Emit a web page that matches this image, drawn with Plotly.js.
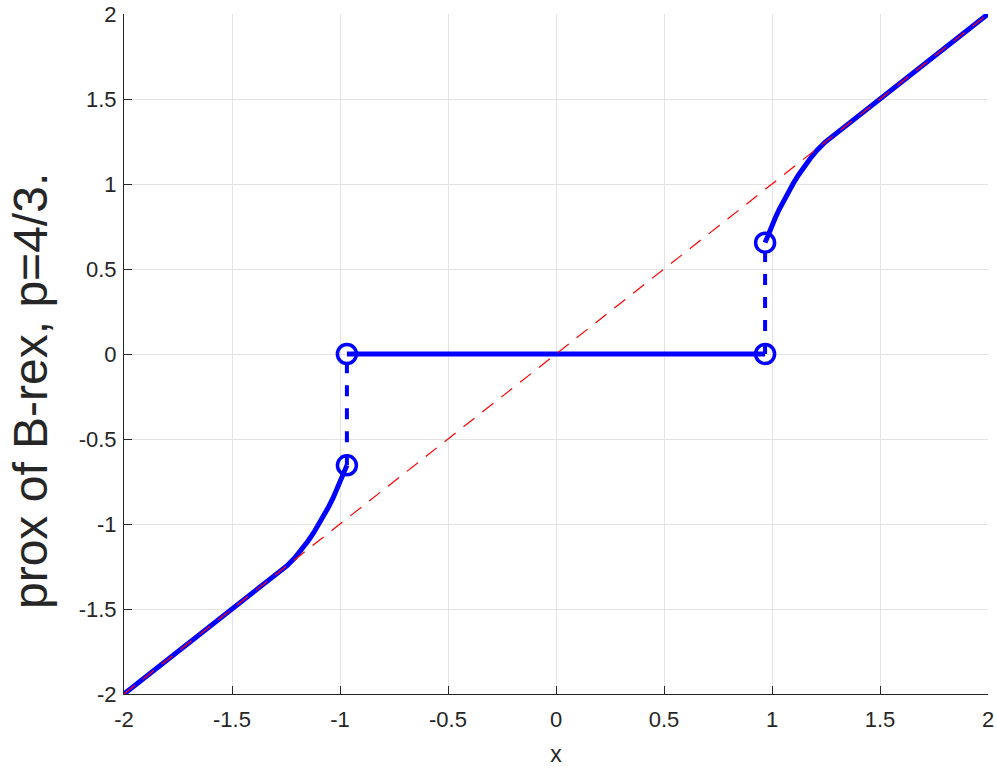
<!DOCTYPE html>
<html>
<head>
<meta charset="utf-8">
<script src="https://cdn.plot.ly/plotly-3.0.1.min.js"></script>
<style>html,body{margin:0;padding:0;background:#fff;}#chart{width:997px;height:768px;}</style>
</head>
<body>
<div id="chart"></div>
<script>
// Identity reference line (red dashed)
const diagX = [-2, 2];
const diagY = [-2, 2];

// Lower branch: identity part then curved part up to jump point
const lowX = [-2, -1.245, -1.210, -1.177, -1.148, -1.121, -1.097, -1.074, -1.053, -1.033, -1.015, -0.997, -0.981, -0.968];
const lowY = [-2, -1.245, -1.200, -1.150, -1.100, -1.050, -1.000, -0.950, -0.900, -0.850, -0.800, -0.750, -0.700, -0.655];

// Middle flat part
const midX = [-0.968, 0.968];
const midY = [0, 0];

// Upper branch: curved part then identity
const upX = [0.968, 0.981, 0.997, 1.015, 1.033, 1.053, 1.074, 1.097, 1.121, 1.148, 1.177, 1.210, 1.245, 2];
const upY = [0.655, 0.700, 0.750, 0.800, 0.850, 0.900, 0.950, 1.000, 1.050, 1.100, 1.150, 1.200, 1.245, 2];

// Jumps (dashed verticals)
const jumpLeftX = [-0.968, -0.968];
const jumpLeftY = [-0.655, 0];
const jumpRightX = [0.968, 0.968];
const jumpRightY = [0, 0.655];

// Open circles at the discontinuity
const circX = [-0.968, -0.968, 0.968, 0.968];
const circY = [0, -0.655, 0, 0.655];

// Tick labels
const tickVals = [-2, -1.5, -1, -0.5, 0, 0.5, 1, 1.5, 2];
const tickText = ['-2', '-1.5', '-1', '-0.5', '0', '0.5', '1', '1.5', '2'];

const yTitle = 'prox of B-rex, p=4/3.';
const xTitle = 'x';

const BLUE = '#0000ff';
const RED = '#ff0000';
const FONT = 'Liberation Sans, Arial, Helvetica, sans-serif';

const traces = [
  {x: jumpLeftX, y: jumpLeftY, mode: 'lines', line: {color: BLUE, width: 4, dash: '11px,12px'}, hoverinfo: 'skip'},
  {x: jumpRightX, y: jumpRightY, mode: 'lines', line: {color: BLUE, width: 4, dash: '11px,12px'}, hoverinfo: 'skip'},
  {x: lowX, y: lowY, mode: 'lines', line: {color: BLUE, width: 5}, hoverinfo: 'skip'},
  {x: midX, y: midY, mode: 'lines', line: {color: BLUE, width: 5}, hoverinfo: 'skip'},
  {x: upX, y: upY, mode: 'lines', line: {color: BLUE, width: 5}, hoverinfo: 'skip'},
  {x: circX, y: circY, mode: 'markers', marker: {symbol: 'circle-open', size: 19, color: BLUE, line: {color: BLUE, width: 3.5}}, hoverinfo: 'skip'},
  {x: diagX, y: diagY, mode: 'lines', line: {color: RED, width: 1.2, dash: '14px,10px'}, hoverinfo: 'skip'}
];

const axisCommon = {
  range: [-2, 2],
  tickmode: 'array',
  tickvals: tickVals,
  ticktext: tickText,
  ticks: 'inside',
  ticklen: 8,
  tickwidth: 1,
  tickcolor: '#262626',
  showline: true,
  linecolor: '#262626',
  linewidth: 1,
  showgrid: true,
  gridcolor: '#e3e3e3',
  gridwidth: 1,
  zeroline: false,
  tickfont: {family: FONT, size: 22, color: '#262626'},
  fixedrange: true
};

const layout = {
  width: 997,
  height: 768,
  margin: {l: 124, r: 9, t: 14, b: 74},
  paper_bgcolor: '#ffffff',
  plot_bgcolor: '#ffffff',
  showlegend: false,
  xaxis: Object.assign({}, axisCommon, {
    ticklabelstandoff: 6,
    title: {text: xTitle, font: {family: FONT, size: 23, color: '#262626'}, standoff: 14}
  }),
  yaxis: Object.assign({}, axisCommon, {
    ticklabelstandoff: 2
  }),
  annotations: [{
    text: yTitle,
    xref: 'paper', yref: 'paper',
    x: (30 - 124) / 864, y: (694 - 391) / 680,
    xanchor: 'center', yanchor: 'middle',
    textangle: -90,
    showarrow: false,
    font: {family: FONT, size: 48, color: '#262626'}
  }]
};

Plotly.newPlot('chart', traces, layout, {staticPlot: true, displayModeBar: false});
</script>
</body>
</html>
